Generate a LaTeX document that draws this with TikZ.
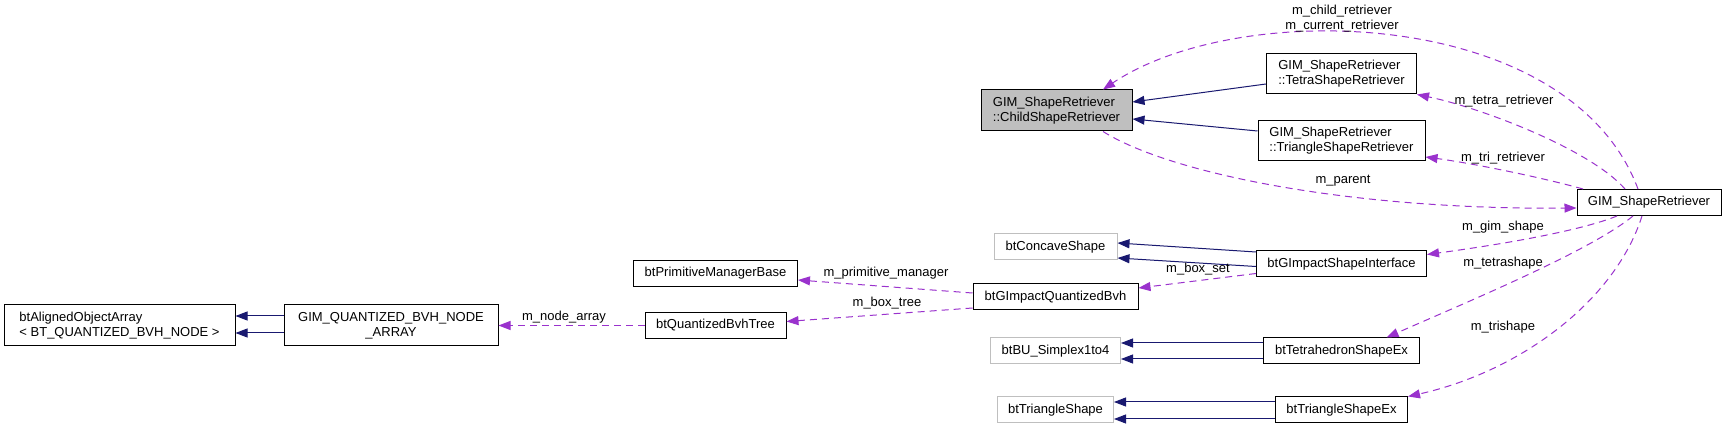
\documentclass[tikz,border=0pt]{standalone}
\usepackage{fontspec}
\setmainfont{Liberation Sans}
\usetikzlibrary{arrows.meta,positioning}
\definecolor{InhBlue}{HTML}{191970}
\definecolor{UsePurple}{HTML}{9A32CD}
\definecolor{ExtGray}{HTML}{BFBFBF}
\definecolor{FocusGray}{HTML}{BFBFBF}

\begin{document}
\begin{tikzpicture}[
    x=1pt, y=-1pt,
    font=\fontsize{13}{15}\selectfont,
    cls/.style={draw=black, line width=1pt, fill=white, inner sep=0pt, minimum height=26pt, align=left},
    extcls/.style={cls, draw=ExtGray},
    focus/.style={cls, fill=FocusGray},
    inh/.style={-{Triangle[length=12pt, width=9pt]}, line width=1pt, draw=InhBlue},
    usage/.style={-{Triangle[length=12pt, width=9pt]}, line width=1pt, draw=UsePurple, dash pattern=on 7pt off 5pt},
    lbl/.style={inner sep=0pt}
]
\useasboundingbox[fill=white] (0,0) rectangle (1727,427);
\node[cls, minimum width=231pt, minimum height=41pt] (aoa) at (119.5,325.5) {btAlignedObjectArray\\< BT\_QUANTIZED\_BVH\_NODE >};
\node[cls, minimum width=214pt, minimum height=41pt, right=48pt of aoa, align=center] (qbvhna) {GIM\_QUANTIZED\_BVH\_NODE\\\_ARRAY};
\node[cls, minimum width=141pt, right=146pt of qbvhna] (qbvhtree) {btQuantizedBvhTree};
\node[cls, minimum width=164pt, above=25pt of qbvhtree] (primmgr) {btPrimitiveManagerBase};
\node[cls, minimum width=165pt] (gqbvh) at (1055.5,297) {btGImpactQuantizedBvh};
\node[extcls, minimum width=123pt, above=23pt of gqbvh] (concave) {btConcaveShape};
\node[extcls, minimum width=130pt, below=27pt of gqbvh] (simplex) {btBU\_Simplex1to4};
\node[extcls, minimum width=116pt, below=32pt of simplex] (trishape) {btTriangleShape};
\node[cls, minimum width=156pt, right=142pt of simplex] (tetra) {btTetrahedronShapeEx};
\node[cls, minimum width=132pt, right=161pt of trishape] (triex) {btTriangleShapeEx};
\node[cls, minimum width=170pt, above=60pt of tetra] (gsi) {btGImpactShapeInterface};
\node[cls, minimum width=167pt, minimum height=40pt, above=89pt of gsi] (triret) {GIM\_ShapeRetriever\\::TriangleShapeRetriever};
\node[cls, minimum width=150pt, minimum height=40pt, above=26pt of triret] (tetraret) {GIM\_ShapeRetriever\\::TetraShapeRetriever};
\node[focus, minimum width=151pt, minimum height=41pt] (child) at (1056.5,110.5) {GIM\_ShapeRetriever\\::ChildShapeRetriever};
\node[cls, minimum width=144pt] (gsr) at (1649,202.5) {GIM\_ShapeRetriever};
% inheritance
\draw[inh] ([yshift=9.5pt]qbvhna.west) -- ([yshift=9.5pt]aoa.east);
\draw[inh] ([yshift=-7.5pt]qbvhna.west) -- ([yshift=-7.5pt]aoa.east);
\draw[inh] ([yshift=-10pt]tetraret.west) -- ([yshift=8.5pt]child.east);
\draw[inh] ([yshift=10pt]triret.west) -- ([yshift=-8.5pt]child.east);
\draw[inh] ([yshift=12pt]gsi.west) -- ([yshift=4pt]concave.east);
\draw[inh] ([yshift=-2.5pt]gsi.west) -- ([yshift=-11pt]concave.east);
\draw[inh] ([yshift=8pt]tetra.west) -- ([yshift=8pt]simplex.east);
\draw[inh] ([yshift=-8pt]tetra.west) -- ([yshift=-8pt]simplex.east);
\draw[inh] ([yshift=8pt]triex.west) -- ([yshift=8pt]trishape.east);
\draw[inh] ([yshift=-9pt]triex.west) -- ([yshift=-9pt]trishape.east);
% members
\draw[usage] (qbvhtree.west) -- (qbvhna.east);
\draw[usage] ([yshift=4pt]gqbvh.west) -- ([yshift=-6.5pt]primmgr.east);
\draw[usage] ([yshift=-11pt]gqbvh.west) -- ([yshift=4pt]qbvhtree.east);
\draw[usage] ([yshift=-9.5pt]gsi.west) -- ([yshift=9pt]gqbvh.east);
\draw[usage] ([xshift=-32pt]gsr.south) .. controls +(-37,15) and +(74,-10) .. ([yshift=9.5pt]gsi.east);
\draw[usage] ([xshift=-16pt]gsr.south) .. controls +(-43,35) and +(84,-37) .. ([xshift=45pt]tetra.north);
\draw[usage] ([xshift=-7pt]gsr.south) .. controls +(-27,85) and +(112,-25) .. (triex.north east);
\draw[usage] ([xshift=-66pt]gsr.north) .. controls +(-43,-12) and +(45,6) .. ([yshift=-16pt]triret.east);
\draw[usage] ([xshift=-24pt]gsr.north) .. controls +(-35,-40) and +(63,13) .. (tetraret.south east);
\draw[usage] ([xshift=-11pt]gsr.north) .. controls +(-68,-182) and +(137,-92) .. ([xshift=46.5pt]child.north);
\draw[usage] ([xshift=46.5pt]child.south) .. controls +(67,42) and +(-227,2) .. ([yshift=-5.5pt]gsr.west);
\node[lbl] (lnodearr) at (564,317) {m\_node\_array};
\node[lbl] (lprim) at (886,273) {m\_primitive\_manager};
\node[lbl] (lboxtree) at (887,303) {m\_box\_tree};
\node[lbl] (lboxset) at (1198,269) {m\_box\_set};
\node[lbl] (lgim) at (1503,227) {m\_gim\_shape};
\node[lbl] (ltetshape) at (1503,263) {m\_tetrashape};
\node[lbl] (ltrishape) at (1503,327) {m\_trishape};
\node[lbl] (ltriret) at (1503,158) {m\_tri\_retriever};
\node[lbl] (ltetret) at (1504,101) {m\_tetra\_retriever};
\node[lbl] (lparent) at (1343,181) {m\_parent};
\node[lbl, align=center] (lchild) at (1342,18.5) {m\_child\_retriever\\m\_current\_retriever};
\end{tikzpicture}
\end{document}
